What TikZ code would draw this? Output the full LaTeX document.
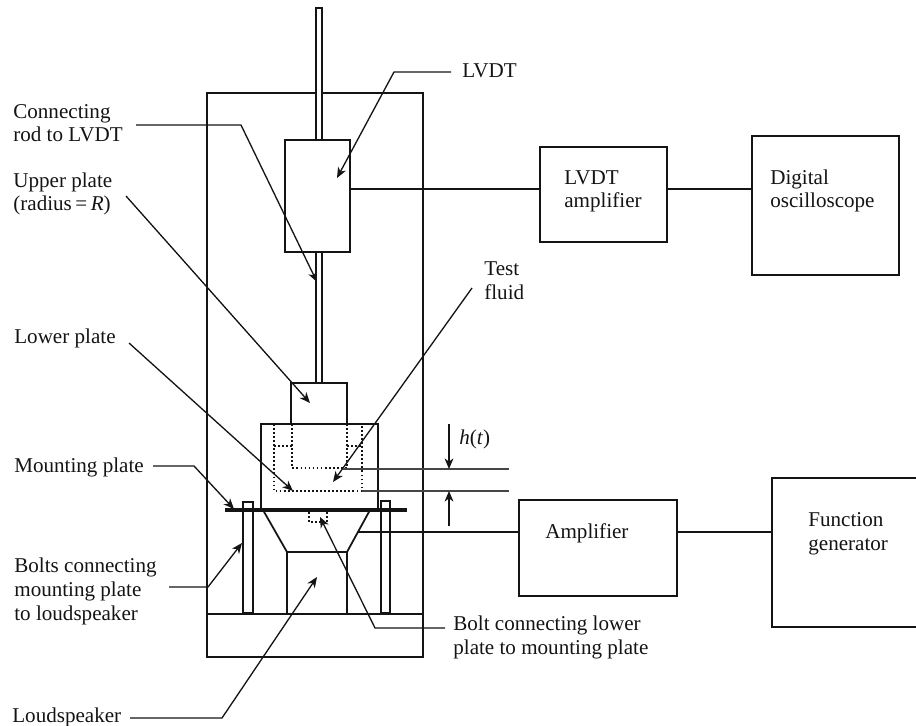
\documentclass[tikz,border=0pt]{standalone}
\usepackage{fontspec}
\setmainfont{Liberation Serif}
\usepackage{xcolor}
\usepackage{tikz}
\usetikzlibrary{arrows.meta,positioning,calc}
\definecolor{clrK}{RGB}{20,20,20}
\definecolor{clrGap}{RGB}{70,70,70}
\tikzset{
  part/.style={rectangle,draw=clrK,fill=white,line width=1pt,inner sep=0pt,outer sep=0pt},
  block/.style={part,line width=1.05pt},
  note/.style={font=\fontsize{12}{13.6}\selectfont,text=clrK,align=left,inner sep=0pt,anchor=base west},
  wire/.style={draw=clrK,line width=1pt},
  leader/.style={draw=clrK,line width=0.75pt,-{Stealth[length=6pt,width=5pt,inset=1.8pt]}},
  gapline/.style={draw=clrGap,line width=0.75pt},
  hidden/.style={draw=clrK,line width=0.8pt,dash pattern=on 1pt off 1.3pt}
}
\begin{document}
\begin{tikzpicture}[x=0.02cm,y=-0.02cm]
  \useasboundingbox (0,0) rectangle (916,726);

  % rig
  \node[part,minimum width=4.32cm,minimum height=11.28cm] (frame) at (315,375) {};
  \node[part,minimum width=4.32cm,minimum height=0.86cm] (base) at (315,635.5) {};
  \node[part,minimum width=0.12cm,minimum height=7.50cm] (rod) at (319,195.5) {};
  \node[part,minimum width=1.30cm,minimum height=2.23cm] (lvdt) at (317.5,196) {};
  \node[part,minimum width=1.12cm,minimum height=0.82cm] (upper) at (319,403.5) {};
  \node[part,minimum width=2.34cm,minimum height=1.72cm] (cell) at (319.5,467) {};
  \node[part,minimum width=1.20cm,minimum height=1.24cm] (speaker) at (317,583) {};
  \node[part,minimum width=0.20cm,minimum height=2.22cm] (boltL) at (248,557.5) {};
  \node[part,minimum width=0.18cm,minimum height=2.24cm] (boltR) at (385.5,557) {};

  \draw[part] (263,510) -- (speaker.north west) -- (speaker.north east) -- (370,510);
  \draw[draw=clrK,line width=2pt] (225,510) -- (407,510);

  % dotted parts
  \draw[hidden] (274,424) -- (274,491) -- (362,491) -- (362,424);
  \draw[hidden] (292,424) -- (292,468) -- (347,468) -- (347,424);
  \draw[hidden] (274,446) -- (292,446);
  \draw[hidden] (347,446) -- (362,446);
  \draw[hidden] (309,512) -- (309,522) -- (327,522) -- (327,512);

  % blocks
  \node[block,minimum width=2.54cm,minimum height=1.90cm] (lvdtamp) at (603.5,194.5) {};
  \node[block,minimum width=2.94cm,minimum height=2.78cm] (scope) at (825.5,205.5) {};
  \node[block,minimum width=3.16cm,minimum height=1.92cm] (amp) at (598,548) {};
  \node[block,minimum width=3.16cm,minimum height=2.98cm] (fgen) at (851,552.5) {};

  \coordinate (sigtop) at (0,189);
  \coordinate (sigbot) at (0,532);
  \coordinate (conetap) at (358,532);

  \draw[wire] (lvdt.east |- sigtop) -- (lvdtamp.west |- sigtop);
  \draw[wire] (lvdtamp.east |- sigtop) -- (scope.west |- sigtop);
  \draw[wire] (conetap) -- (amp.west |- sigbot);
  \draw[wire] (amp.east |- sigbot) -- (fgen.west |- sigbot);

  % texts
  \node[note] (lvdtlbl) at (462,78) {LVDT};
  \node[note] (connlbl) at (13,142) {Connecting\\rod to LVDT};
  \node[note] (upperlbl) at (13,211) {Upper plate\\(radius\,=\,\textit{R})};
  \node[note] (lowerlbl) at (14,343) {Lower plate};
  \node[note] (mountlbl) at (14,472) {Mounting plate};
  \node[note] (boltslbl) at (14,620) {Bolts connecting\\mounting plate\\to loudspeaker};
  \node[note] (speakerlbl) at (12,722) {Loudspeaker};
  \node[note] (fluidlbl) at (484,299) {Test\\fluid};
  \node[note] (gaplbl) at (459,444) {\textit{h}(\textit{t})};
  \node[note] (boltlbl) at (453,654) {Bolt connecting lower\\plate to mounting plate};
  \node[note] (lvdtamplbl) at (564,208) {LVDT\\amplifier};
  \node[note] (scopelbl) at (770,208) {Digital\\oscilloscope};
  \node[note] (amplbl) at (545,538) {Amplifier};
  \node[note] (fgenlbl) at (808,550) {Function\\generator};

  % leaders
  \coordinate (lvdtstart) at (451,72);
  \coordinate (lvdttip) at (337,178);
  \coordinate (connstart) at (136,125);
  \coordinate (conntip) at (317,282);
  \coordinate (upperstart) at (126,196);
  \coordinate (uppertip) at (310,403);
  \coordinate (lowerstart) at (129,343);
  \coordinate (lowertip) at (293,491);
  \coordinate (fluidstart) at (472,288);
  \coordinate (fluidtip) at (333,482);
  \coordinate (mountstart) at (153,466);
  \coordinate (mounttip) at (234,509);
  \coordinate (boltsstart) at (169,587);
  \coordinate (boltstip) at (242,543);
  \coordinate (speakerstart) at (130,718);
  \coordinate (speakertip) at (317,577);
  \coordinate (boltstart) at (445,628);
  \coordinate (bolttip) at (320,517);

  \draw[leader] (lvdtstart) -- (394,72) -- (lvdttip);
  \draw[leader] (connstart) -- (241,125) -- (conntip);
  \draw[leader] (upperstart) -- (uppertip);
  \draw[leader] (lowerstart) -- (lowertip);
  \draw[leader] (fluidstart) -- (fluidtip);
  \draw[leader] (mountstart) -- (194,466) -- (mounttip);
  \draw[leader] (boltsstart) -- (208,587) -- (boltstip);
  \draw[leader] (speakerstart) -- (222,718) -- (speakertip);
  \draw[leader] (boltstart) -- (375,628) -- (bolttip);

  % gap marks
  \coordinate (gaptopleft) at (343,469);
  \coordinate (gaptopright) at (509,469);
  \coordinate (gapbotleft) at (362,491);
  \coordinate (gapbotright) at (509,491);
  \coordinate (gaptoparrow) at (449,424);
  \coordinate (gapbotarrow) at (449,526);

  \draw[gapline] (gaptopleft) -- (gaptopright);
  \draw[gapline] (gapbotleft) -- (gapbotright);
  \draw[leader] (gaptoparrow) -- (gaptoparrow |- gaptopleft);
  \draw[leader] (gapbotarrow) -- (gapbotarrow |- gapbotleft);
\end{tikzpicture}
\end{document}
